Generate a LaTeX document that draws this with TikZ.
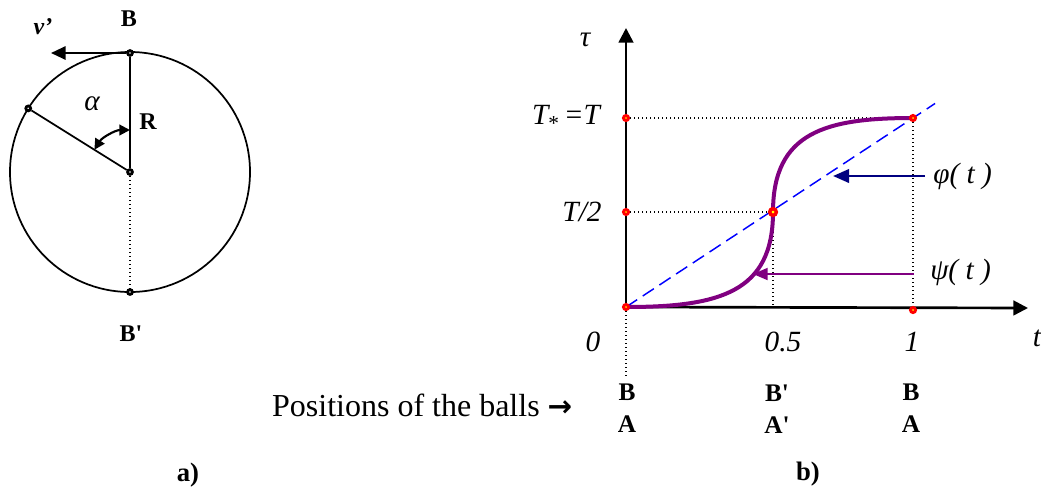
\documentclass[tikz,border=0pt]{standalone}
\usepackage{fontspec}
\setmainfont{Liberation Serif}[Ligatures=TeXOff]
\newfontfamily\arrowfont{DejaVu Sans}
\usetikzlibrary{arrows.meta, calc}
\definecolor{cvPurple}{RGB}{128,0,128}
\definecolor{cvNavy}{RGB}{0,0,128}
\definecolor{cvBlue}{RGB}{0,0,255}
\definecolor{cvRed}{RGB}{255,0,0}
\definecolor{cvYellow}{RGB}{255,255,0}

\begin{document}
\begin{tikzpicture}[
    x=0.75pt, y=-0.75pt,
    ball/.style={circle, draw=black, fill=white, line width=2.1pt, inner sep=0pt, minimum size=3.6pt},
    rdot/.style={circle, draw=cvRed, fill=cvYellow, line width=2.2pt, inner sep=0pt, minimum size=3.8pt},
    axis/.style={line width=2pt, -{Triangle[length=11pt, width=11pt]}},
    vel/.style={line width=1.5pt, -{Triangle[length=11pt, width=10pt]}},
    guide/.style={line width=1pt, dash pattern=on 1pt off 2pt},
    lbl/.style={font=\fontsize{22}{26}\selectfont\itshape},
    bold/.style={font=\fontsize{18}{21}\selectfont\bfseries},
    posbold/.style={font=\fontsize{19}{22}\selectfont\bfseries}
]
\useasboundingbox (0,0) rectangle (1041,497);

% Panel a: the circle
\coordinate (ctr) at (130,172);
\draw[line width=1.3pt] (ctr) circle[radius=120];
\draw[guide] (ctr) -- (130,292);
\node[ball] (ballB) at (130,53) {};
\node[ball] (ballC) at (ctr) {};
\node[ball] (ballP) at ($(ctr)+(212:120)$) {};
\node[ball] (ballBp) at (130,292) {};
\draw[line width=1.3pt] (ballB) -- (ballC);
\draw[line width=1.3pt] (ballP) -- (ballC);
\coordinate (vtip) at (51,53);
\draw[vel] (ballB) -- (vtip);
\draw[line width=1.6pt, {Triangle[length=8pt, width=8pt]}-{Triangle[length=8pt, width=8pt]}]
    ($(ctr)+(270:42)$) arc[start angle=270, end angle=212, radius=42];

\node[bold] (lblB) at (129,19) {B};
\node[font=\fontsize{18}{21}\selectfont\bfseries\itshape] (lblV) at (43,27) {v’};
\node[lbl] (lblAlpha) at (92,104) {α};
\node[bold] (lblR) at (148,122) {R};
\node[bold] (lblBp) at (131,334) {B'};
\node[font=\fontsize{20}{24}\selectfont\bfseries] (lblA) at (188,475) {a)};

% Panel b: the graph
\coordinate (O) at (626,307);
\coordinate (ytop) at (626,28);
\coordinate (xtip) at (1028,308);
\coordinate (E) at (913,118);
\coordinate (M) at (773,212);
\draw[guide] (626,118) -- (E);
\draw[guide] (626,212) -- (M);
\draw[guide] (E) -- (913,308);
\draw[guide] (M) -- (773,307);
\draw[guide] (O) -- (626,378);
\draw[axis] (O) -- (ytop);
\draw[axis] (O) -- (xtip);
\draw[cvBlue, dash pattern=on 10pt off 5pt, line width=1.1pt] (O) -- ($(O)!1.077!(E)$);
\draw[cvPurple, line width=3pt] (O) .. controls (720,307) and (773,292) .. (M)
    .. controls (773,132) and (826,118) .. (E);

\node[rdot] (d1) at (626,118) {};
\node[rdot] (d2) at (626,212) {};
\node[rdot] (d3) at (O) {};
\node[rdot, minimum size=5pt, line width=2.6pt] (d4) at (M) {};
\node[rdot] (d5) at (E) {};
\node[rdot] (d6) at (913,310) {};

% Curve labels
\node[lbl, anchor=west, inner sep=0pt] (phiLbl) at (933,176) {φ( t )};
\node[lbl, anchor=west, inner sep=0pt] (psiLbl) at (930,272) {ψ( t )};
\coordinate (phiTip) at (833,176);
\coordinate (psiTip) at (753,274);
\draw[cvNavy, line width=2pt, -{Triangle[length=12pt, width=10pt]}, shorten <=6pt]
    (phiLbl.west |- phiTip) -- (phiTip);
\draw[cvPurple, line width=1.4pt, -{Triangle[length=11pt, width=9pt]}, shorten <=12pt]
    (psiLbl.west |- psiTip) -- (psiTip);

% Axis labels
\node[lbl] (lblTau) at (585,40) {τ};
\node[lbl] (lblT) at (566,118) {T\raisebox{-0.45ex}{\upshape\fontsize{16}{18}\selectfont *}\,=T};
\node[lbl] (lblT2) at (582,212) {T/2};
\node[lbl] (lblZero) at (593,342) {0};
\node[lbl] (lblHalf) at (783,342) {0.5};
\node[lbl] (lblOne) at (912,342) {1};
\node[lbl] (lblt) at (1037,338) {t};

% Positions of the balls
\node[font=\fontsize{24}{28}\selectfont, anchor=east] (lblPos) at (577,405)
    {Positions of the balls {\arrowfont\bfseries\fontsize{22}{26}\selectfont →}};
\node[posbold] (pB1) at (627,392) {B};
\node[posbold] (pA1) at (627,424) {A};
\node[posbold] (pB2) at (777,393) {B'};
\node[posbold] (pA2) at (777,425) {A'};
\node[posbold] (pB3) at (911,392) {B};
\node[posbold] (pA3) at (911,424) {A};
\node[font=\fontsize{20}{24}\selectfont\bfseries] (lblb) at (808,474) {b)};
\end{tikzpicture}
\end{document}
